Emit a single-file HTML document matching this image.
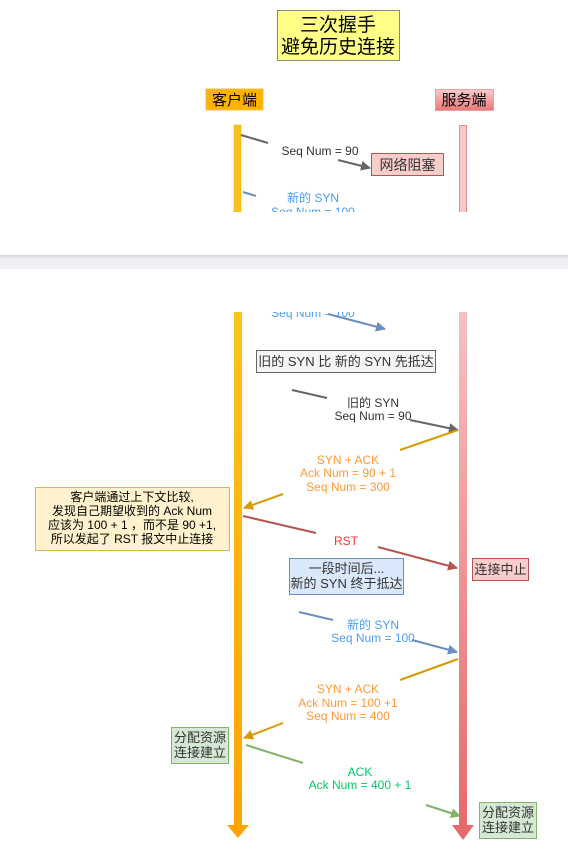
<!DOCTYPE html>
<html><head><meta charset="utf-8"><style>
html,body{margin:0;padding:0;background:#fff;width:568px;height:855px;overflow:hidden}
svg{display:block}
text{font-family:"Liberation Sans","Noto Sans CJK SC",sans-serif;font-size:12px;text-anchor:middle}
</style></head><body>
<svg width="568" height="855" viewBox="0 0 568 855" xmlns="http://www.w3.org/2000/svg">
<defs>
<linearGradient id="og" x1="0" y1="0" x2="0" y2="1"><stop offset="0" stop-color="#ffc21a"/><stop offset="1" stop-color="#ffa500"/></linearGradient>
<linearGradient id="rg" x1="0" y1="0" x2="0" y2="1"><stop offset="0" stop-color="#f6c0c0"/><stop offset="1" stop-color="#e76a6a"/></linearGradient>
<linearGradient id="hb" x1="0" y1="0" x2="0" y2="1"><stop offset="0" stop-color="#f8cccc"/><stop offset="1" stop-color="#ea7575"/></linearGradient>
<linearGradient id="sh" x1="0" y1="0" x2="0" y2="1"><stop offset="0" stop-color="#d4d4d6"/><stop offset="1" stop-color="#f0f1f5"/></linearGradient>
<marker id="a" viewBox="0 0 10 10" refX="9" refY="5" markerWidth="5" markerHeight="5" orient="auto"><path d="M0,0L10,5L0,10z" fill="context-stroke"/></marker>
</defs>
<!-- top -->
<rect x="277.5" y="10.5" width="122" height="50" fill="#ffff88" stroke="#888"/>
<text x="338" y="31" style="font-size:19px">三次握手</text>
<text x="338" y="53" style="font-size:19px">避免历史连接</text>
<rect x="206" y="89" width="57" height="21" fill="#ffb300" stroke="#f0c040"/>
<text x="234.5" y="105" style="font-size:15px">客户端</text>
<rect x="435.5" y="89.5" width="58" height="21" fill="url(#hb)" stroke="#e8a0a0"/>
<text x="464" y="105" style="font-size:15px">服务端</text>
<rect x="234" y="125" width="7" height="90" fill="#fcc21b" stroke="#e8a800" stroke-width="0.5"/>
<rect x="459.5" y="125.5" width="7" height="90" fill="#f8c8c8" stroke="#e09090"/>
<line x1="241" y1="135" x2="268" y2="143" stroke="#666" stroke-width="2"/>
<text x="320" y="155" fill="#333">Seq Num = 90</text>
<line x1="338" y1="160" x2="370" y2="168" stroke="#666" stroke-width="2" marker-end="url(#a)"/>
<rect x="371.5" y="153.5" width="72" height="22" fill="#f8cecc" stroke="#b85450"/>
<text x="407.5" y="170" style="font-size:14px" fill="#333">网络阻塞</text>
<line x1="243" y1="192" x2="256" y2="196" stroke="#6c8ebf" stroke-width="2"/>
<text x="313" y="202" fill="#4a9ef5">新的 SYN</text>
<text x="313" y="216" fill="#4a9ef5">Seq Num = 100</text>
<rect x="0" y="212" width="568" height="43" fill="#fff"/>
<rect x="0" y="255" width="568" height="14" fill="#f0f1f5"/>
<rect x="0" y="255" width="568" height="4" fill="url(#sh)"/>
<!-- bottom -->
<rect x="234" y="312" width="8" height="514" fill="url(#og)"/>
<path d="M227,825L249,825L238,838z" fill="#ffa500"/>
<rect x="459" y="312" width="8" height="514" fill="url(#rg)"/>
<path d="M452,825L474,825L463,840z" fill="#e76a6a"/>
<text x="313" y="317" fill="#4a9ef5">Seq Num = 100</text>
<rect x="250" y="300" width="200" height="12" fill="#fff"/>
<line x1="328" y1="314" x2="385" y2="329" stroke="#6c8ebf" stroke-width="2" marker-end="url(#a)"/>
<rect x="256.5" y="350.5" width="179" height="22" fill="#f5f5f5" stroke="#666"/>
<text x="346" y="366" style="font-size:13px" fill="#333">旧的 SYN 比 新的 SYN 先抵达</text>
<line x1="292" y1="390" x2="327" y2="398" stroke="#666" stroke-width="2"/>
<text x="373" y="407" fill="#333">旧的 SYN</text>
<text x="373" y="420" fill="#333">Seq Num = 90</text>
<line x1="410" y1="420" x2="458" y2="430" stroke="#666" stroke-width="2" marker-end="url(#a)"/>
<line x1="458" y1="430" x2="400" y2="450" stroke="#d79b00" stroke-width="2"/>
<text x="348" y="464" fill="#ff9933">SYN + ACK</text>
<text x="348" y="477" fill="#ff9933">Ack Num =  90 + 1</text>
<text x="348" y="491" fill="#ff9933">Seq Num = 300</text>
<line x1="283" y1="494" x2="244" y2="508" stroke="#d79b00" stroke-width="2" marker-end="url(#a)"/>
<rect x="35.5" y="487.5" width="194" height="63" fill="#fff2cc" stroke="#d6b656"/>
<text x="132" y="501">客户端通过上下文比较,</text>
<text x="132" y="515">发现自己期望收到的 Ack Num</text>
<text x="132" y="529">应该为 100 + 1 ，而不是 90 +1,</text>
<text x="132" y="543">所以发起了 RST 报文中止连接</text>
<line x1="243" y1="516" x2="316" y2="533" stroke="#b85450" stroke-width="2"/>
<text x="346" y="545" fill="#ff3333">RST</text>
<line x1="378" y1="547" x2="457" y2="568" stroke="#b85450" stroke-width="2" marker-end="url(#a)"/>
<rect x="472.5" y="558.5" width="56" height="22" fill="#f8cecc" stroke="#b85450"/>
<text x="500.5" y="574" style="font-size:13px" fill="#333">连接中止</text>
<rect x="289.5" y="558.5" width="114" height="36" fill="#dae8fc" stroke="#6c8ebf"/>
<text x="346.5" y="573" style="font-size:13px" fill="#333">一段时间后...</text>
<text x="346.5" y="588" style="font-size:13px" fill="#333">新的 SYN 终于抵达</text>
<line x1="299" y1="612" x2="333" y2="620" stroke="#6c8ebf" stroke-width="2"/>
<text x="373" y="629" fill="#4a9ef5">新的 SYN</text>
<text x="373" y="642" fill="#4a9ef5">Seq Num = 100</text>
<line x1="412" y1="640" x2="457" y2="652" stroke="#6c8ebf" stroke-width="2" marker-end="url(#a)"/>
<line x1="458" y1="659" x2="400" y2="680" stroke="#d79b00" stroke-width="2"/>
<text x="348" y="693" fill="#ff9933">SYN + ACK</text>
<text x="348" y="707" fill="#ff9933">Ack Num =  100 +1</text>
<text x="348" y="720" fill="#ff9933">Seq Num = 400</text>
<line x1="283" y1="723" x2="244" y2="738" stroke="#d79b00" stroke-width="2" marker-end="url(#a)"/>
<rect x="171.5" y="727.5" width="57" height="36" fill="#d5e8d4" stroke="#82b366"/>
<text x="200" y="742" style="font-size:13px" fill="#333">分配资源</text>
<text x="200" y="757" style="font-size:13px" fill="#333">连接建立</text>
<line x1="246" y1="745" x2="303" y2="763" stroke="#82b366" stroke-width="2"/>
<text x="360" y="776" fill="#00cc66">ACK</text>
<text x="360" y="789" fill="#00cc66">Ack Num = 400 + 1</text>
<line x1="426" y1="805" x2="460" y2="816" stroke="#82b366" stroke-width="2" marker-end="url(#a)"/>
<rect x="479.5" y="802.5" width="57" height="36" fill="#d5e8d4" stroke="#82b366"/>
<text x="508" y="817" style="font-size:13px" fill="#333">分配资源</text>
<text x="508" y="832" style="font-size:13px" fill="#333">连接建立</text>
</svg>
</body></html>
